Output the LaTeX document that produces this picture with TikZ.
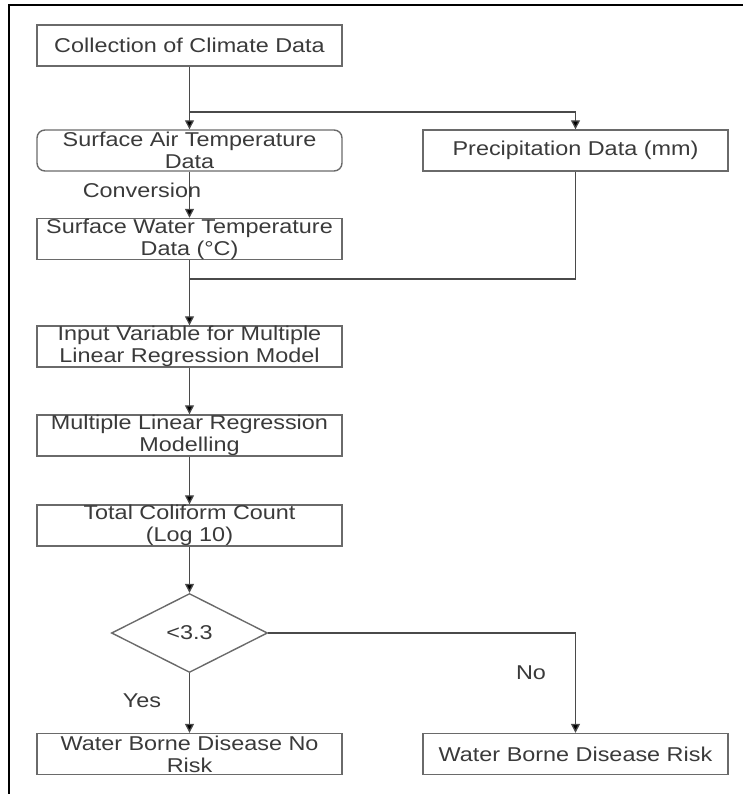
\documentclass[tikz,border=0pt]{standalone}
\usepackage{fontspec}
\setmainfont{Liberation Sans}[FakeStretch=1.17]
\usetikzlibrary{arrows.meta,shapes.geometric}
\definecolor{linegray}{HTML}{4A4A4A}
\definecolor{boxgray}{HTML}{6A6A6A}
\definecolor{textgray}{HTML}{3A3A3A}
\begin{document}
\begin{tikzpicture}[x=1pt,y=1pt,
   flowbox/.style={draw=boxgray,line width=1.4pt,minimum width=305pt,minimum height=41pt,
                   inner sep=0pt,align=center,text=textgray,font=\fontsize{20}{22}\selectfont},
   roundbox/.style={flowbox,rounded corners=8pt},
   testbox/.style={draw=boxgray,line width=1.4pt,shape=diamond,aspect=2,minimum width=156pt,
                   minimum height=79pt,inner sep=0pt,text=textgray,font=\fontsize{20}{22}\selectfont},
   flowlabel/.style={text=textgray,font=\fontsize{20}{22}\selectfont,inner sep=0pt},
   flow/.style={draw=linegray,line width=1.3pt,-{Triangle[width=9pt,length=9pt,fill=black]}},
   linkline/.style={draw=linegray,line width=1.3pt}]

   \useasboundingbox (0,0) rectangle (743,-794);

   % frame
   \draw[line width=2.5pt] (9,-794) -- (9,-5) -- (743,-5);

   % boxes
   \node[flowbox]  (collect) at (189.5,-45.5)  {Collection of Climate Data};
   \node[roundbox] (airtemp) at (189.5,-150.5) {Surface Air Temperature\\Data};
   \node[flowbox]  (precip)  at (575.5,-150.5) {Precipitation Data (mm)};
   \node[flowbox]  (watertemp) at (189.5,-239) {Surface Water Temperature\\Data (°C)};
   \node[flowbox]  (input)   at (189.5,-346.5) {Input Variable for Multiple\\Linear Regression Model};
   \node[flowbox]  (mlr)     at (189.5,-435.5) {Multiple Linear Regression\\Modelling};
   \node[flowbox]  (coliform) at (189.5,-525.5) {Total Coliform Count\\(Log 10)};
   \node[testbox]  (test)    at (189.5,-633)   {<3.3};
   \node[flowbox]  (norisk)  at (189.5,-754)   {Water Borne Disease No\\Risk};
   \node[flowbox]  (risk)    at (575.5,-754)   {Water Borne Disease Risk};

   \coordinate (split) at (189.5,-112);
   \coordinate (splitr) at (575.5,-112);
   \coordinate (merge) at (189.5,-279);
   \coordinate (merger) at (575.5,-279);
   \coordinate (nocorner) at (575.5,-633);

   % connectors
   \draw[linkline] (collect.south) -- (split);
   \draw[flow] (split) -- (airtemp.north);
   \draw[linkline] (split) -- (splitr);
   \draw[flow] (splitr) -- (precip.north);
   \draw[flow] (airtemp.south) -- (watertemp.north);
   \draw[linkline] (watertemp.south) -- (merge);
   \draw[linkline] (precip.south) -- (merger) -- (merge);
   \draw[flow] (merge) -- (input.north);
   \draw[flow] (input.south) -- (mlr.north);
   \draw[flow] (mlr.south) -- (coliform.north);
   \draw[flow] (coliform.south) -- (test.north);
   \draw[flow] (test.south) -- (norisk.north);
   \draw[linkline] (test.east) -- (nocorner);
   \draw[flow] (nocorner) -- (risk.north);

   % labels
   \node[flowlabel] (conv) at (142,-190) {Conversion};
   \node[flowlabel] (yes)  at (142,-701) {Yes};
   \node[flowlabel] (no)   at (531,-673) {No};

\end{tikzpicture}
\end{document}
